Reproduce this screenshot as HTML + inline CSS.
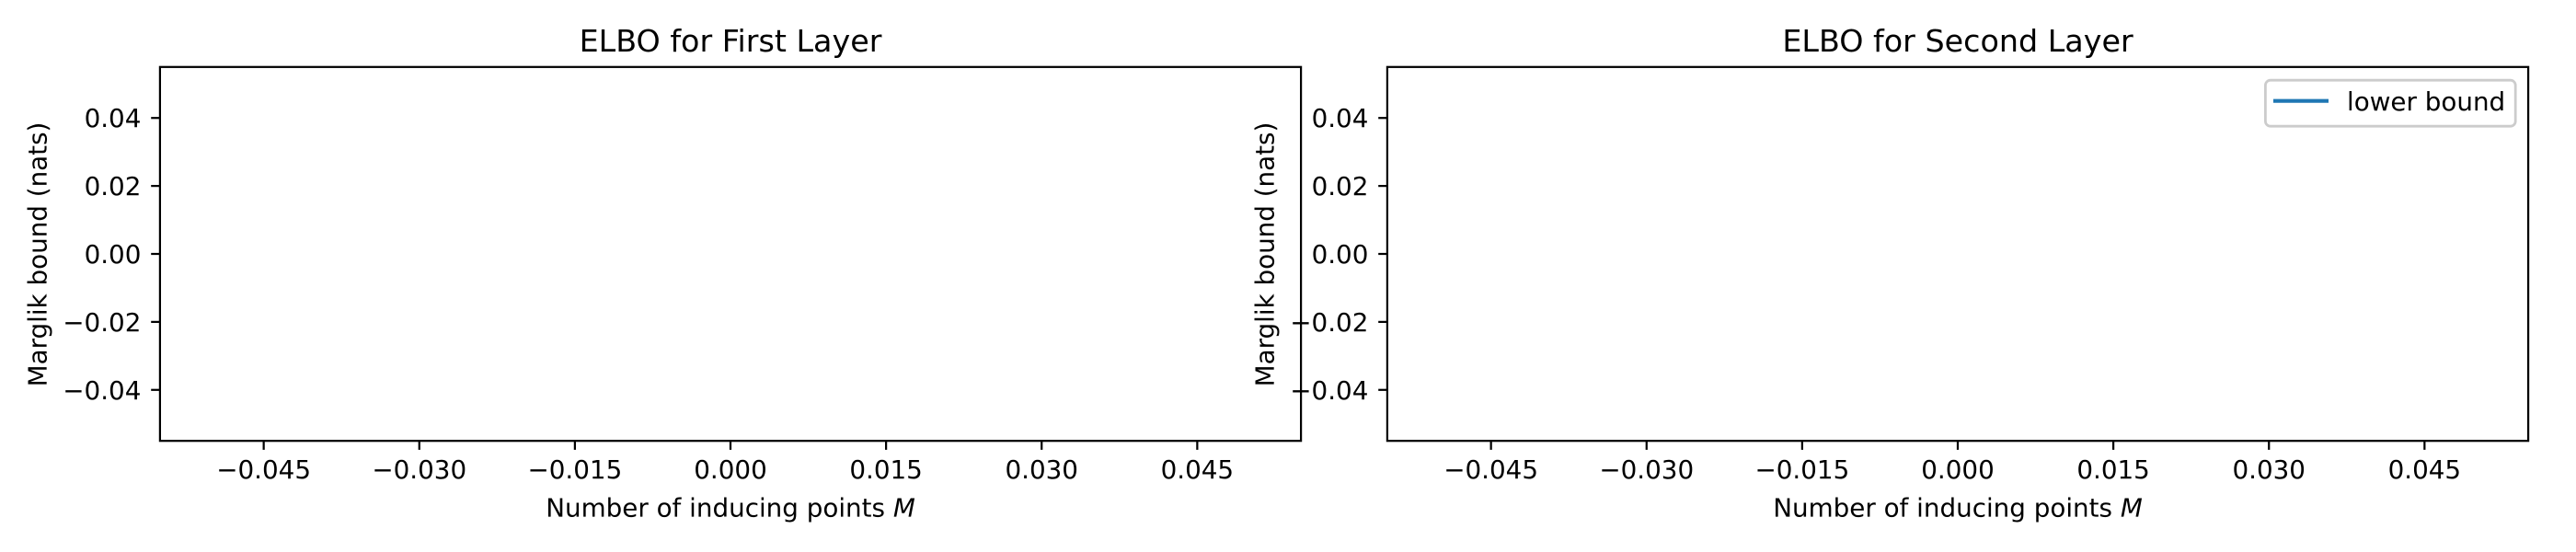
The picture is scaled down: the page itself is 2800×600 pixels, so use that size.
<!DOCTYPE html>
<html lang="en">
<head>
<meta charset="utf-8">
<title>ELBO for First and Second Layer</title>
<style>
  html, body { margin: 0; padding: 0; background: #fff; }
  body { width: 2800px; height: 600px; overflow: hidden; }
  svg { display: block; }
  text { font-family: "DejaVu Sans", "Liberation Sans", sans-serif; fill: #000; }
</style>
</head>
<body>
<svg id="figure" xmlns="http://www.w3.org/2000/svg" width="2800" height="600" viewBox="0 0 2800 600">
  <rect x="0" y="0" width="2800" height="600" fill="#fff"/>
  <g id="panel-first"></g>
  <g id="panel-second"></g>
  <g>
    <rect x="2462.4" y="87.2" width="271.8" height="50" rx="5.5" ry="5.5" fill="#fff" fill-opacity="0.8" stroke="#ccc" stroke-width="2.78"/>
    <line x1="2471" y1="109.7" x2="2531" y2="109.7" stroke="#1f77b4" stroke-width="4.17"/>
    <text x="2551" y="120" font-size="27.78">lower bound</text>
  </g>
</svg>
<script>
var xTicks = [-0.045, -0.030, -0.015, 0, 0.015, 0.030, 0.045];
var xTickLabels = ["\u22120.045", "\u22120.030", "\u22120.015", "0.000", "0.015", "0.030", "0.045"];
var yTicks = [0.04, 0.02, 0, -0.02, -0.04];
var yTickLabels = ["0.04", "0.02", "0.00", "\u22120.02", "\u22120.04"];
var xDomain = [-0.055, 0.055];
var yDomain = [-0.055, 0.055];
var firstLayerInducing = [];
var firstLayerBound = [];
var secondLayerInducing = [];
var secondLayerBound = [];

var SVG_NS = 'http://www.w3.org/2000/svg';
var plotTop = 72.8;
var plotBottom = 479.2;

function make(parent, tag, attrs) {
  var el = document.createElementNS(SVG_NS, tag);
  for (var key in attrs) { el.setAttribute(key, attrs[key]); }
  parent.appendChild(el);
  return el;
}

function drawPanel(group, left, right, title, xs, ys) {
  function xScale(v) { return left + (v - xDomain[0]) / (xDomain[1] - xDomain[0]) * (right - left); }
  function yScale(v) { return plotBottom - (v - yDomain[0]) / (yDomain[1] - yDomain[0]) * (plotBottom - plotTop); }

  var titleEl = make(group, 'text', { x: (left + right) / 2, y: 56, 'font-size': 33.33, 'text-anchor': 'middle' });
  
  
  titleEl.textContent = title;

  if (xs.length && ys.length) {
    var pts = xs.map(function (v, i) { return xScale(v) + ',' + yScale(ys[i]); }).join(' ');
    var series = make(group, 'polyline', { points: pts, fill: 'none', stroke: '#1f77b4', 'stroke-width': 4.17 });
    
    
  }

  xTicks.forEach(function (v, i) {
    var x = xScale(v);
    var mark = make(group, 'line', { x1: x, y1: plotBottom, x2: x, y2: plotBottom + 9.7, stroke: '#000', 'stroke-width': 2.22 });
    
    
    var label = make(group, 'text', { x: x, y: 520, 'font-size': 27.78, 'text-anchor': 'middle' });
    
    
    label.textContent = xTickLabels[i];
  });

  yTicks.forEach(function (v, i) {
    var y = yScale(v);
    var mark = make(group, 'line', { x1: left - 9.7, y1: y, x2: left, y2: y, stroke: '#000', 'stroke-width': 2.22 });
    
    
    var label = make(group, 'text', { x: left - 20.5, y: y + 10, 'font-size': 27.78, 'text-anchor': 'end' });
    
    
    label.textContent = yTickLabels[i];
  });

  var frame = make(group, 'rect', { x: left, y: plotTop, width: right - left, height: plotBottom - plotTop, fill: 'none', stroke: '#000', 'stroke-width': 2.22 });
  
  

  var xTitle = make(group, 'text', { x: (left + right) / 2, y: 561.7, 'font-size': 27.78, 'text-anchor': 'middle' });
  
  
  xTitle.appendChild(document.createTextNode('Number of inducing points '));
  var italic = make(xTitle, 'tspan', { 'font-style': 'italic' });
  italic.textContent = 'M';

  var yTitleX = left - 123.2;
  var yTitleY = (plotTop + plotBottom) / 2 + 0.5;
  var yTitle = make(group, 'text', { x: yTitleX, y: yTitleY, 'font-size': 27.78, 'text-anchor': 'middle', transform: 'rotate(-90 ' + yTitleX + ' ' + yTitleY + ')' });
  
  
  yTitle.textContent = 'Marglik bound (nats)';
}

drawPanel(document.getElementById('panel-first'), 173.9, 1414.1, 'ELBO for First Layer', firstLayerInducing, firstLayerBound);
drawPanel(document.getElementById('panel-second'), 1507.9, 2748.1, 'ELBO for Second Layer', secondLayerInducing, secondLayerBound);
</script>
</body>
</html>
